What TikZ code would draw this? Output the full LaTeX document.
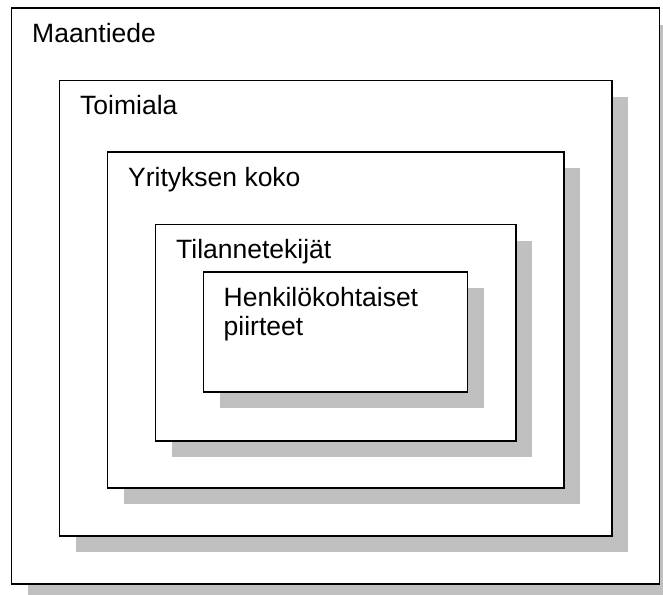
\documentclass[tikz,border=0pt]{standalone}
\usepackage{fontspec}
\setmainfont{Liberation Sans}
\usetikzlibrary{shadows}
\definecolor{shadowgray}{RGB}{192,192,192}
\tikzset{
  layerbox/.style={draw=black, fill=white, line width=1.6pt, rectangle, inner sep=0pt, anchor=north west,
    drop shadow={shadow xshift=16.5pt, shadow yshift=-16.5pt, opacity=1, fill=shadowgray}},
  layertext/.style={anchor=base west, inner sep=0pt, align=left, font=\fontsize{26.5}{29}\selectfont}
}
\begin{document}
\begin{tikzpicture}[x=1pt,y=-1pt]
\useasboundingbox (0,0) rectangle (663,594);
\clip (0,0) rectangle (663,594);
\fill[white] (0,0) rectangle (663,594);
\node[layerbox, minimum width=648pt, minimum height=575.5pt] (maa) at (10.5,7.5) {};
\node[layertext] (maat) at ([xshift=21.5pt,yshift=-35pt]maa.north west) {Maantiede};
\node[layerbox, minimum width=552.5pt, minimum height=455.5pt] (toi) at (58.5,79.5) {};
\node[layertext] (toit) at ([xshift=21.5pt,yshift=-35pt]toi.north west) {Toimiala};
\node[layerbox, minimum width=456.5pt, minimum height=336pt] (yri) at (106.5,151) {};
\node[layertext] (yrit) at ([xshift=21.5pt,yshift=-35pt]yri.north west) {Yrityksen koko};
\node[layerbox, minimum width=360.5pt, minimum height=216.5pt] (til) at (154.5,223.5) {};
\node[layertext] (tilt) at ([xshift=21.5pt,yshift=-35pt]til.north west) {Tilannetekijät};
\node[layerbox, minimum width=264pt, minimum height=120pt] (hen) at (202.5,271) {};
\node[layertext, anchor=north west] (hent) at ([xshift=21pt,yshift=-16pt]hen.north west) {\vphantom{H}Henkilökohtaiset\\piirteet};
\end{tikzpicture}
\end{document}
